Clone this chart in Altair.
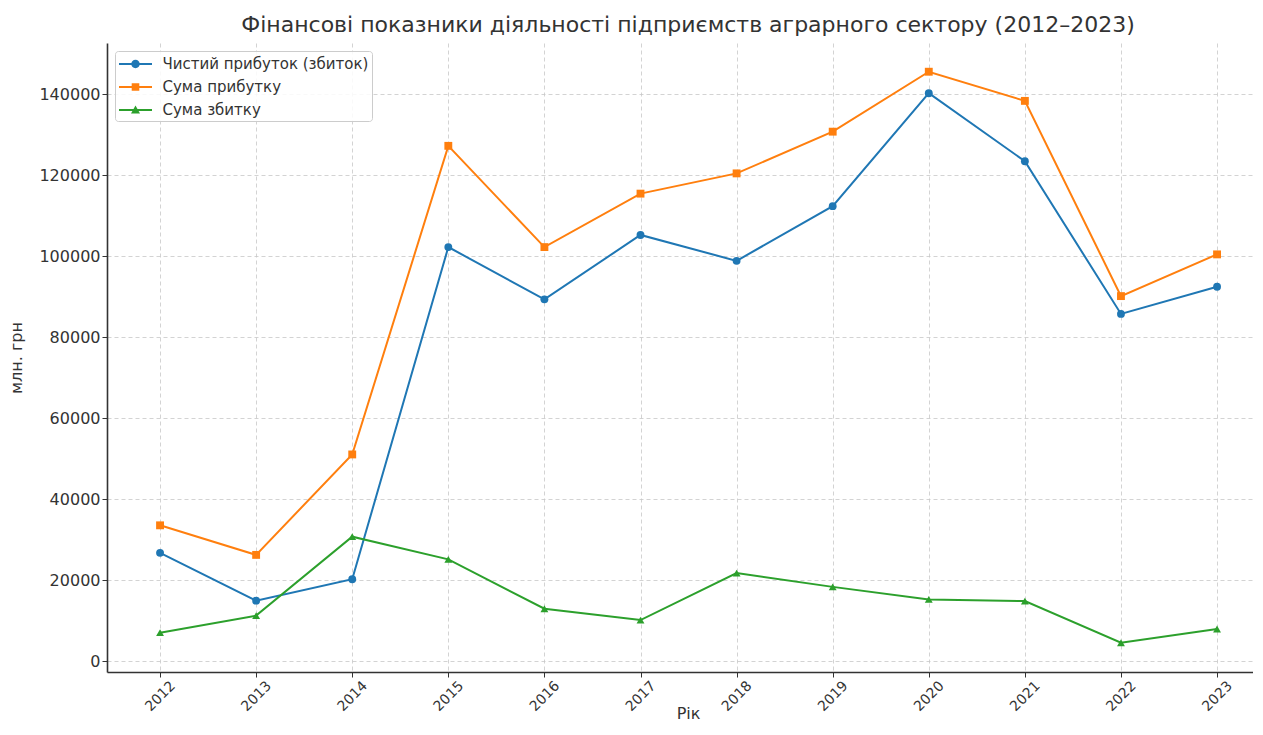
import altair as alt
import pandas as pd

years = [2012, 2013, 2014, 2015, 2016, 2017, 2018, 2019, 2020, 2021, 2022, 2023]
series_names = ["Чистий прибуток (збиток)", "Сума прибутку", "Сума збитку"]
net_profit = [26700, 14900, 20200, 102200, 89300, 105200, 98800, 112300, 140200, 123400, 85700, 92400]
profit_sum = [33500, 26200, 51000, 127200, 102200, 115400, 120400, 130700, 145500, 138300, 90100, 100400]
loss_sum = [7000, 11200, 30700, 25100, 12900, 10100, 21700, 18300, 15200, 14800, 4500, 7900]
y_ticks = [0, 20000, 40000, 60000, 80000, 100000, 120000, 140000]
colors = ["#1f77b4", "#ff7f0e", "#2ca02c"]
marker_shapes = ["circle", "square", "triangle-up"]

rows = []
for name, vals in zip(series_names, [net_profit, profit_sum, loss_sum]):
    for yr, v in zip(years, vals):
        rows.append({"year": yr, "series": name, "value": v})
df = pd.DataFrame(rows)

FONT = "DejaVu Sans"
TXT = "#333333"

# legend symbols: line segment with marker (path in symbol units)
bar = "M-1.65,-0.1H1.65V0.1H-1.65Z "
legend_paths = [
    bar + "M0.42,0A0.42,0.42,0,1,1,-0.42,0A0.42,0.42,0,1,1,0.42,0Z",
    bar + "M-0.38,-0.38H0.38V0.38H-0.38Z",
    bar + "M0,-0.45L0.45,0.35L-0.45,0.35Z",
]

x_enc = alt.X(
    "year:Q",
    scale=alt.Scale(domain=[2011.448, 2023.374], nice=False, zero=False),
    axis=alt.Axis(
        values=years, format="d", labelAngle=315, labelAlign="center",
        labelBaseline="middle", labelPadding=19, labelFontSize=14,
        title="Рік", titleX=581, titleY=46, titleBaseline="alphabetic",
        titleAlign="center", titleAngle=0,
    ),
)
y_enc = alt.Y(
    "value:Q",
    scale=alt.Scale(domain=[-2716, 152593], nice=False, zero=False),
    axis=alt.Axis(
        values=y_ticks, format="d", labelPadding=2, labelFontSize=16,
        title="млн. грн", titlePadding=14,
    ),
)

base = alt.Chart(df).encode(x=x_enc, y=y_enc)

layers = []
for name, col, shp in zip(series_names, colors, marker_shapes):
    sub = base.transform_filter(alt.datum.series == name)
    layers.append(sub.mark_line(strokeWidth=2, color=col))
    layers.append(sub.mark_point(filled=True, size=62, opacity=1, shape=shp, color=col))

leg = alt.Legend(
    title=None, orient="top-left", offset=8, padding=3, rowPadding=5,
    symbolSize=400, symbolStrokeWidth=0, symbolOffset=7.5, labelOffset=17,
    symbolOpacity=1,
    labelFont=FONT, labelFontSize=15, labelColor=TXT, labelLimit=400,
    fillColor="rgba(255,255,255,0.85)", strokeColor="#cccccc", cornerRadius=3,
)
legend_layer = alt.Chart(df).transform_filter("false").mark_point(filled=True, opacity=1).encode(
    color=alt.Color("series:N", scale=alt.Scale(domain=series_names, range=colors), legend=leg),
    shape=alt.Shape("series:N", scale=alt.Scale(domain=series_names, range=legend_paths), legend=leg),
)

chart = (
    alt.layer(*layers, legend_layer)
    .properties(
        width=1146, height=629,
        autosize=alt.AutoSizeParams(type="none"),
        padding={"left": 99, "top": 35, "right": 0, "bottom": 51},
        title=alt.TitleParams(
            "Фінансові показники діяльності підприємств аграрного сектору (2012–2023)",
            font=FONT, fontSize=22, fontWeight="normal", color=TXT,
            anchor="middle", frame="group", offset=6, dx=8,
        ),
    )
    .configure_view(stroke=None)
    .configure_axis(
        labelFont=FONT, titleFont=FONT, labelColor=TXT, titleColor=TXT,
        titleFontSize=16, titleFontWeight="normal",
        domainColor="#333333", domainWidth=1.6, tickColor="#333333", tickSize=5, tickWidth=1,
        grid=True, gridColor="#c8c8c8", gridDash=[4, 3], gridWidth=0.8,
    )
)

chart.save("out.html", embed_options={"renderer": "svg", "actions": False})
